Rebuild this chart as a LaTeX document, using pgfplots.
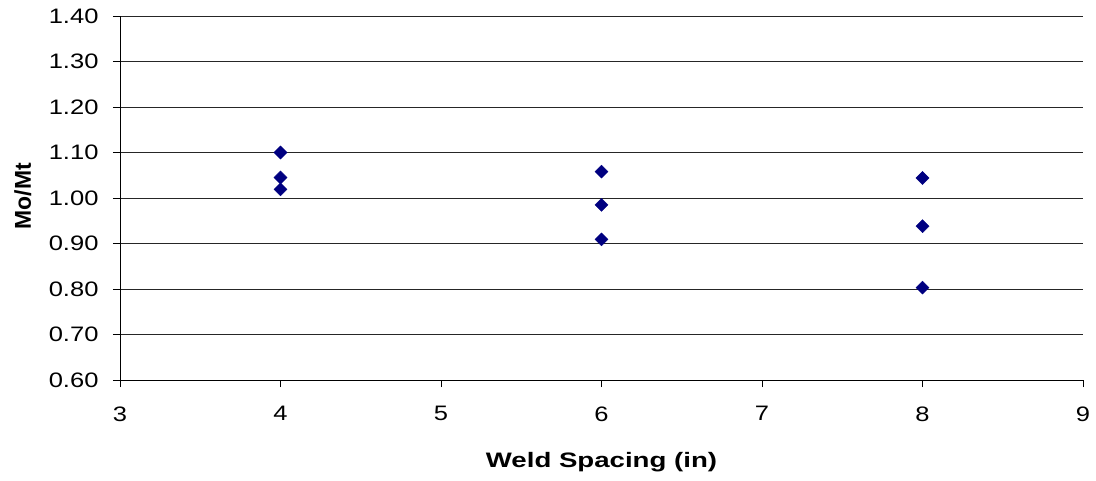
\documentclass[border=0pt]{standalone}
\usepackage{pgfplots}
\pgfplotsset{compat=1.18}
\usepackage{fontspec}
\setmainfont{Liberation Sans}
% the reference's text is drawn wider than Arial
\newfontfamily\tickfont[FakeStretch=1.22]{Liberation Sans}
\newfontfamily\labfont[FakeStretch=1.32]{Liberation Sans Bold}
\newfontfamily\ylabfont{Liberation Sans Bold}
\definecolor{navy}{RGB}{0,0,128}

\pgfplotstableread{
x y
4 1.100
4 1.045
4 1.019
6 1.058
6 0.985
6 0.909
8 1.044
8 0.938
8 0.803
}\weld

\begin{document}
\begin{tikzpicture}
\begin{axis}[
    at={(0,0)}, anchor=south west,
    scale only axis,
    width=963bp, height=364bp,
    xmin=3, xmax=9, ymin=0.6, ymax=1.4,
    xtick={3,4,...,9},
    ytick={0.6,0.7,...,1.41},
    axis x line*=bottom, axis y line*=left,
    axis line style={black, line width=0.8pt, -},
    ymajorgrids, grid style={black!85, line width=0.7pt},
    tick style={black, line width=0.8pt},
    tick align=outside, major tick length=7bp,
    /pgf/number format/assume math mode=true,
    yticklabel style={/pgf/number format/fixed, /pgf/number format/fixed zerofill,
        /pgf/number format/precision=2, xshift=-11bp},
    ticklabel style={font=\tickfont\fontsize{21}{24}\selectfont},
    xticklabel style={yshift=-16bp},
    xlabel={Weld Spacing (in)},
    ylabel={Mo/Mt},
    xlabel style={font=\labfont\fontsize{21}{24}\selectfont,
        at={(axis description cs:0.5,-0.226)}, anchor=center},
    ylabel style={font=\ylabfont\fontsize{23}{26}\selectfont,
        at={(axis description cs:-0.101,0.505)}, anchor=center},
]
\addplot[only marks, mark=square*, mark size=4.6bp,
    mark options={rotate=45, fill=navy, draw=navy}] table[x=x, y=y] {\weld};
\end{axis}
\pgfresetboundingbox
\useasboundingbox (-120bp,-101bp) rectangle (976bp,380bp);
\end{tikzpicture}
\end{document}
